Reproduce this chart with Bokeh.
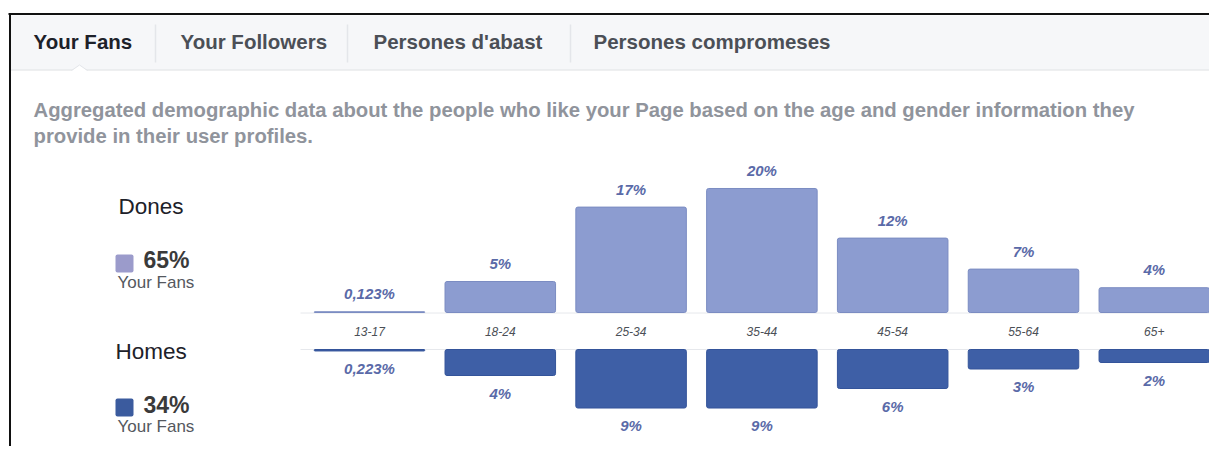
from bokeh.plotting import figure
from bokeh.models import Range1d, ColumnDataSource
from bokeh.core.properties import value
from bokeh.embed import file_html
from bokeh.resources import INLINE

# ---------------- data ----------------
tabs = ["Your Fans", "Your Followers", "Persones d'abast", "Persones compromeses"]
description = ["Aggregated demographic data about the people who like your Page based on the age and gender information they",
               "provide in their user profiles."]
age_groups = ["13-17", "18-24", "25-34", "35-44", "45-54", "55-64", "65+"]
women = [0.123, 5, 17, 20, 12, 7, 4]     # Dones (%)
men = [0.223, 4, 9, 9, 6, 3, 2]          # Homes (%)
group_names = ["Dones", "Homes"]
group_share = ["65%", "34%"]
group_sub = ["Your Fans", "Your Fans"]

def fmt(v):
    return ("%g" % v).replace(".", ",") + "%"

FONT = value("Liberation Sans")
W_COL = "#8c9cd0"
M_COL = "#3e5fa6"
LAB_COL = "#5a6aa8"

# ---------------- figure (main ranges = picture pixels) ----------------
p = figure(width=1209, height=446, output_backend="svg", toolbar_location=None,
           x_range=Range1d(0, 1209), y_range=Range1d(446, 0),
           x_axis_location=None, y_axis_location=None, min_border=0)
p.grid.visible = False
p.outline_line_color = None
p.background_fill_color = "white"
p.border_fill_color = "white"

# category scale: index -> horizontal position
p.extra_x_ranges = {"cat": Range1d(-2.821, 6.422)}
# women grow upward from the upper baseline, men grow downward from the lower baseline
p.extra_y_ranges = {"fy": Range1d(-21.61, 50.32), "my": Range1d(14.92, -53.69)}

# ---------------- frame / tabs ----------------
p.quad(left=10, right=1209, top=15, bottom=69, fill_color="#f6f7f9", line_color=None)
p.segment(x0=10, y0=69.5, x1=1209, y1=69.5, line_color="#dddfe2", line_width=1)
p.patch(x=[71, 79, 87], y=[70.5, 64.5, 70.5], fill_color="white", line_color=None)
p.multi_line(xs=[[71, 79, 87]], ys=[[70, 64.5, 70]], line_color="#e4e6ea", line_width=1)
p.segment(x0=8, y0=13.5, x1=1209, y1=13.5, line_color="#111111", line_width=2)
p.segment(x0=9.5, y0=13, x1=9.5, y1=446, line_color="#111111", line_width=2)
for sx in [155, 347, 570]:
    p.segment(x0=sx, y0=24, x1=sx, y1=62, line_color="#e4e6ea", line_width=1.5)

tab_x = [33, 180, 373, 593]
tab_col = ["#1d2129", "#4b4f56", "#4b4f56", "#4b4f56"]
p.text(x=tab_x, y=[40.5] * 4, text=tabs, text_font=FONT, text_font_size="20.5px",
       text_font_style="bold", text_color=tab_col, text_baseline="alphabetic")

p.text(x=[33, 33], y=[109.5, 135.5], text=description, text_font=FONT, text_font_size="20.3px",
       text_font_style="bold", text_color="#90949c", text_baseline="alphabetic")

# ---------------- left legend ----------------
p.text(x=[118, 115], y=[206, 351], text=group_names, text_font=FONT, text_font_size="22.5px",
       text_color="#1d2129", text_baseline="alphabetic")
p.quad(left=[115, 115], right=[133, 133], top=[254, 398], bottom=[272, 416],
       fill_color=["#9b9bcb", "#3b5b9e"], line_color=None, border_radius=2)
p.text(x=[143, 143], y=[259.5, 404], text=group_share, text_font=FONT, text_font_size="23px",
       text_font_style="bold", text_color="#3a3a3a", text_baseline="alphabetic")
p.text(x=[117, 117], y=[281.5, 425.5], text=group_sub, text_font=FONT, text_font_size="17px",
       text_color="#55585e", text_baseline="alphabetic")

# ---------------- chart ----------------
p.segment(x0=300, y0=312.5, x1=1209, y1=312.5, line_color="#e6e8ec", line_width=1)
p.segment(x0=300, y0=349, x1=1209, y1=349, line_color="#e6e8ec", line_width=1)

src = ColumnDataSource(dict(
    idx=list(range(len(age_groups))), cat=age_groups, w=women, m=men,
    wl=[fmt(v) for v in women], ml=[fmt(v) for v in men]))

p.vbar(x="idx", top="w", bottom=0, width=0.845, source=src, x_range_name="cat",
       y_range_name="fy", fill_color=W_COL, line_color="#7b8cc2", line_width=1,
       border_radius=2)
p.vbar(x="idx", top="m", bottom=0, width=0.845, source=src, x_range_name="cat",
       y_range_name="my", fill_color=M_COL, line_color="#34549a", line_width=1,
       border_radius=2)

p.text(x="idx", y="w", text="wl", source=src, x_range_name="cat", y_range_name="fy",
       text_align="center", text_baseline="alphabetic", y_offset=-18,
       text_font=FONT, text_font_size="15px", text_font_style="bold italic",
       text_color=LAB_COL)
p.text(x="idx", y="m", text="ml", source=src, x_range_name="cat", y_range_name="my",
       text_align="center", text_baseline="top", y_offset=9,
       text_font=FONT, text_font_size="15px", text_font_style="bold italic",
       text_color=LAB_COL)
p.text(x="idx", y=331, text="cat", source=src, x_range_name="cat",
       text_align="center", text_baseline="middle",
       text_font=FONT, text_font_size="12px", text_font_style="italic",
       text_color="#4b4f56")

open("out.html", "w").write(file_html(p, INLINE))
